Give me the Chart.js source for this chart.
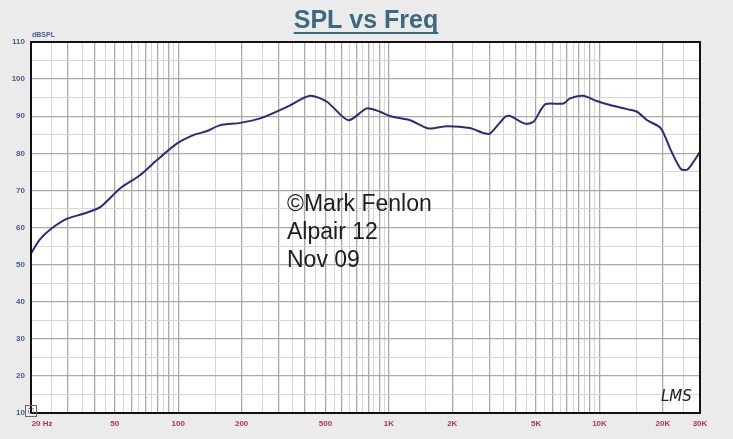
<!DOCTYPE html>
<html>
<head>
<meta charset="utf-8">
<script src="https://cdn.jsdelivr.net/npm/chart.js@4"></script>
<style>
  html, body { margin: 0; padding: 0; background: #ebebeb; }
  #wrap { width: 733px; height: 439px; position: relative; }
</style>
</head>
<body>
<div id="wrap"><canvas id="splChart"></canvas></div>
<script>
// Frequency response (Hz / dB SPL)
const freqs = [20, 22, 24.6, 29.5, 35.4, 42.6, 52.9, 65.8, 79, 98.4, 118, 137, 158, 197, 245, 328,
  422, 508, 642, 786, 908, 1016, 1262, 1540, 1888, 2422, 2800, 3020, 3560, 3760, 4420, 4860,
  5520, 6740, 7240, 8360, 9700, 11220, 13480, 15080, 16840, 19520, 21820, 24400, 26260, 30000];
const spl = [53, 56.7, 59.4, 62.3, 63.7, 65.5, 70.5, 74.1, 78.1, 82.6, 84.9, 86, 87.6, 88.2, 89.4, 92.5,
  95.5, 93.9, 88.9, 92.1, 91.2, 90, 88.9, 86.7, 87.3, 86.8, 85.5, 85.3, 89.8, 90.1, 88, 88.5,
  93.2, 93.4, 94.8, 95.5, 94.1, 93, 91.9, 91.2, 88.9, 86.8, 80.8, 75.7, 75.7, 80.4];

// labelled frequency ticks
const xTickVals = [20, 50, 100, 200, 500, 1000, 2000, 5000, 10000, 20000, 30000];
const xTickText = ['          20 Hz', '50', '100', '200', '500', '1K', '2K', '5K', '10K', '20K', '30K'];

const notes = ['\u00a9Mark Fenlon', 'Alpair 12', 'Nov 09'];

// grid lines: half steps inside each decade
const xGrid = [];
for (let v = 20; v < 100; v += 5) xGrid.push(v);
for (let v = 100; v < 1000; v += 50) xGrid.push(v);
for (let v = 1000; v < 10000; v += 500) xGrid.push(v);
for (let v = 10000; v <= 30000; v += 5000) xGrid.push(v);

function isMajorX(v) {
  const d = Math.pow(10, Math.floor(Math.log10(v) + 1e-9));
  return Math.abs(v / d - Math.round(v / d)) < 1e-9;
}

const decor = {
  id: 'decor',
  beforeDraw(chart) {
    const { ctx, chartArea: a } = chart;
    ctx.save();
    ctx.fillStyle = '#ffffff';
    ctx.fillRect(a.left, a.top, a.right - a.left, a.bottom - a.top);
    ctx.restore();
  },
  afterDraw(chart) {
    const { ctx, chartArea: a } = chart;
    ctx.save();
    // frame
    ctx.strokeStyle = '#111';
    ctx.lineWidth = 2;
    ctx.strokeRect(a.left, a.top, a.right - a.left, a.bottom - a.top);

    // title
    ctx.fillStyle = '#3b6a80';
    ctx.font = 'bold 25px "Liberation Sans", Arial, sans-serif';
    ctx.textAlign = 'center';
    ctx.textBaseline = 'alphabetic';
    const title = 'SPL vs Freq';
    ctx.fillText(title, 366, 28);
    const tw = ctx.measureText(title).width;
    ctx.fillRect(366 - tw / 2, 32, tw, 2);

    // unit label
    ctx.fillStyle = '#3f5f8f';
    ctx.font = 'bold 7px "Liberation Sans Narrow", "Liberation Sans", sans-serif';
    ctx.textAlign = 'left';
    ctx.fillText('dBSPL', 32, 37);

    // notes
    ctx.fillStyle = '#1e1e1e';
    ctx.font = '23px "Liberation Sans", Arial, sans-serif';
    notes.forEach((t, i) => ctx.fillText(t, 287, 211 + i * 28));

    // LMS mark
    ctx.fillStyle = '#222';
    ctx.font = 'italic 15px "DejaVu Sans", sans-serif';
    ctx.fillText('LMS', 661, 401);

    // little zoom icon in the corner
    ctx.strokeStyle = '#666';
    ctx.lineWidth = 1;
    ctx.strokeRect(25.5, 405.5, 11, 11);
    ctx.setLineDash([2, 2]);
    ctx.strokeRect(28.5, 408.5, 5, 5);
    ctx.restore();
  }
};

const ctx = document.getElementById('splChart').getContext('2d');
const chart = new Chart(ctx, {
  type: 'line',
  data: {
    datasets: [{
      label: 'SPL',
      data: freqs.map((f, i) => ({ x: f, y: spl[i] })),
      borderColor: '#2b2b7e',
      borderWidth: 2,
      pointRadius: 0,
      tension: 0.25,
      fill: false
    }]
  },
  options: {
    responsive: true,
    maintainAspectRatio: false,
    animation: false,
    layout: { padding: { top: 42, right: 33, left: 0, bottom: 0 } },
    plugins: { legend: { display: false }, tooltip: { enabled: false } },
    scales: {
      x: {
        type: 'logarithmic',
        min: 20,
        max: 30000,
        afterBuildTicks(scale) { scale.ticks = xGrid.map(v => ({ value: v })); },
        afterFit(scale) { scale.height = 26; },
        grid: {
          drawTicks: false,
          color: c => isMajorX(c.tick.value) ? '#a9a9a9' : '#d6d6d6',
          lineWidth: c => isMajorX(c.tick.value) ? 1.3 : 1
        },
        border: { display: false },
        ticks: {
          autoSkip: false,
          maxRotation: 0,
          padding: 6,
          color: '#b8305c',
          font: { family: '"Liberation Sans Narrow", "Liberation Sans", sans-serif', size: 8, weight: 'bold' },
          callback: v => {
            const i = xTickVals.indexOf(v);
            return i >= 0 ? xTickText[i] : '';
          }
        }
      },
      y: {
        min: 10,
        max: 110,
        afterFit(scale) { scale.width = 31; },
        grid: {
          drawTicks: false,
          color: c => c.tick.value % 10 === 0 ? '#a9a9a9' : '#d6d6d6',
          lineWidth: c => c.tick.value % 10 === 0 ? 1.3 : 1
        },
        border: { display: false },
        ticks: {
          stepSize: 5,
          padding: 6,
          color: '#3f5f8f',
          font: { family: '"Liberation Sans Narrow", "Liberation Sans", sans-serif', size: 8, weight: 'bold' },
          callback: v => v % 10 === 0 ? String(v) : ''
        }
      }
    }
  },
  plugins: [decor]
});
</script>
</body>
</html>
